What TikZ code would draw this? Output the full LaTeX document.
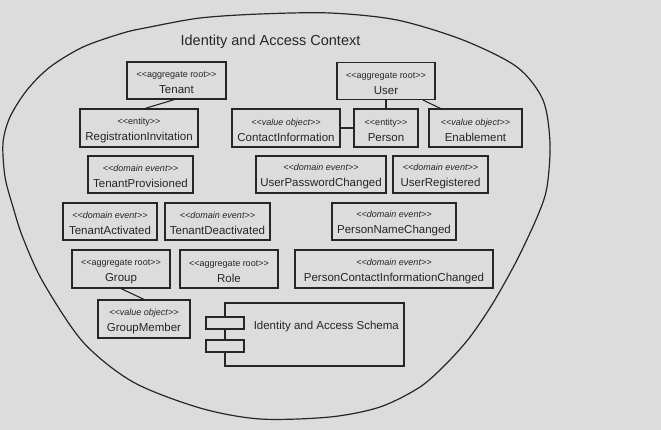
\documentclass[tikz,border=0pt]{standalone}
\usepackage{fontspec}
\setmainfont{Liberation Sans}
\usetikzlibrary{positioning}
\definecolor{paper}{RGB}{220,220,220}
\definecolor{ink}{RGB}{38,38,38}
\newcommand{\stereo}[1]{{\fontsize{9}{10}\selectfont\rule{0pt}{11pt}<{}<#1>{}>}}
\newcommand{\evstereo}[1]{{\fontsize{9}{10}\selectfont\itshape\rule{0pt}{11pt}<{}<#1>{}>}}

\begin{document}
\begin{tikzpicture}[x=1pt, y=-1pt,
    cls/.style={draw=ink, line width=1.1pt, minimum height=37pt, align=center,
                font=\fontsize{11.5}{13}\selectfont, inner sep=1pt, text=ink},
    port/.style={draw=ink, fill=paper, line width=1.1pt, minimum width=38pt,
                 minimum height=12pt, inner sep=0pt},
    link/.style={draw=ink, line width=1.1pt}
]
\fill[paper] (0,0) rectangle (661,430);
\useasboundingbox (0,0) rectangle (661,430);
\draw[ink, line width=1.2pt] plot[smooth cycle] coordinates {
    (330,13) (397,20) (463,40) (517,67) (543,100) (550,143) (547,187)
    (538,215) (517,260) (493,303) (470,337) (447,363) (420,387) (380,407)
    (330,417) (260,419) (200,408) (133,382) (83,342) (43,282) (23,238)
    (13,207) (5,177) (3,143) (10,117) (27,90) (50,67) (83,47) (123,33)
    (150,27) (200,18) (260,14)};
\node[font=\fontsize{14.5}{16}\selectfont, text=ink] (title) at (270.5,42)
    {Identity and Access Context};
\node[cls, minimum width=99pt] (Tenant) at (176.5,80.5)
    {\stereo{aggregate root}\\[3pt]Tenant};
\node[cls, minimum width=98pt] (User) at (386,81)
    {\stereo{aggregate root}\\[3pt]User};
\node[cls, minimum width=118pt, minimum height=38pt] (RegInv) at (139,128)
    {\stereo{entity}\\[3pt]RegistrationInvitation};
\node[cls, minimum width=108pt, minimum height=38pt] (Contact) at (286,128)
    {\evstereo{value object}\\[3pt]ContactInformation};
\node[cls, minimum width=64pt, minimum height=38pt] (Person) at (386,128)
    {\stereo{entity}\\[3pt]Person};
\node[cls, minimum width=93pt, minimum height=38pt] (Enable) at (475.5,128)
    {\evstereo{value object}\\[3pt]Enablement};
\node[cls, minimum width=105pt] (TProv) at (140.5,174.5)
    {\evstereo{domain event}\\[3pt]TenantProvisioned};
\node[cls, minimum width=130pt] (UPwd) at (321,174.5)
    {\evstereo{domain event}\\[3pt]UserPasswordChanged};
\node[cls, minimum width=95pt] (UReg) at (440.5,174.5)
    {\evstereo{domain event}\\[3pt]UserRegistered};
\node[cls, minimum width=94pt] (TAct) at (110,221.5)
    {\evstereo{domain event}\\[3pt]TenantActivated};
\node[cls, minimum width=105pt] (TDeact) at (217.5,221.5)
    {\evstereo{domain event}\\[3pt]TenantDeactivated};
\node[cls, minimum width=124pt] (PName) at (394,221.5)
    {\evstereo{domain event}\\[3pt]PersonNameChanged};
\node[cls, minimum width=98pt, minimum height=38pt] (Group) at (121,269)
    {\stereo{aggregate root}\\[3pt]Group};
\node[cls, minimum width=98pt, minimum height=38pt] (Role) at (229,269)
    {\stereo{aggregate root}\\[3pt]Role};
\node[cls, minimum width=198pt, minimum height=38pt] (PContact) at (394,269)
    {\evstereo{domain event}\\[3pt]PersonContactInformationChanged};
\node[cls, minimum width=92pt, minimum height=38pt] (GMember) at (144,319)
    {\evstereo{value object}\\[3pt]GroupMember};
\node[draw=ink, line width=1.1pt, minimum width=179pt, minimum height=63pt]
    (Schema) at (314.5,334.5) {};
\node[port] (portA) at (225,323) {};
\node[port] (portB) at (225,346) {};
\node[anchor=west, inner sep=0pt, text=ink, font=\fontsize{11.5}{13}\selectfont,
      right=9pt of portA, yshift=-4pt] (schemaLabel) {Identity and Access Schema};
\draw[link] ([xshift=-2pt]Tenant.south) -- ([xshift=6pt]RegInv.north);
\draw[link] (User.south) -- (Person.north);
\draw[link] ([xshift=37pt]User.south) -- ([xshift=-35pt]Enable.north);
\draw[link] (Contact.east) -- (Person.west);
\draw[link] (Group.south) -- (GMember.north);
\end{tikzpicture}
\end{document}
